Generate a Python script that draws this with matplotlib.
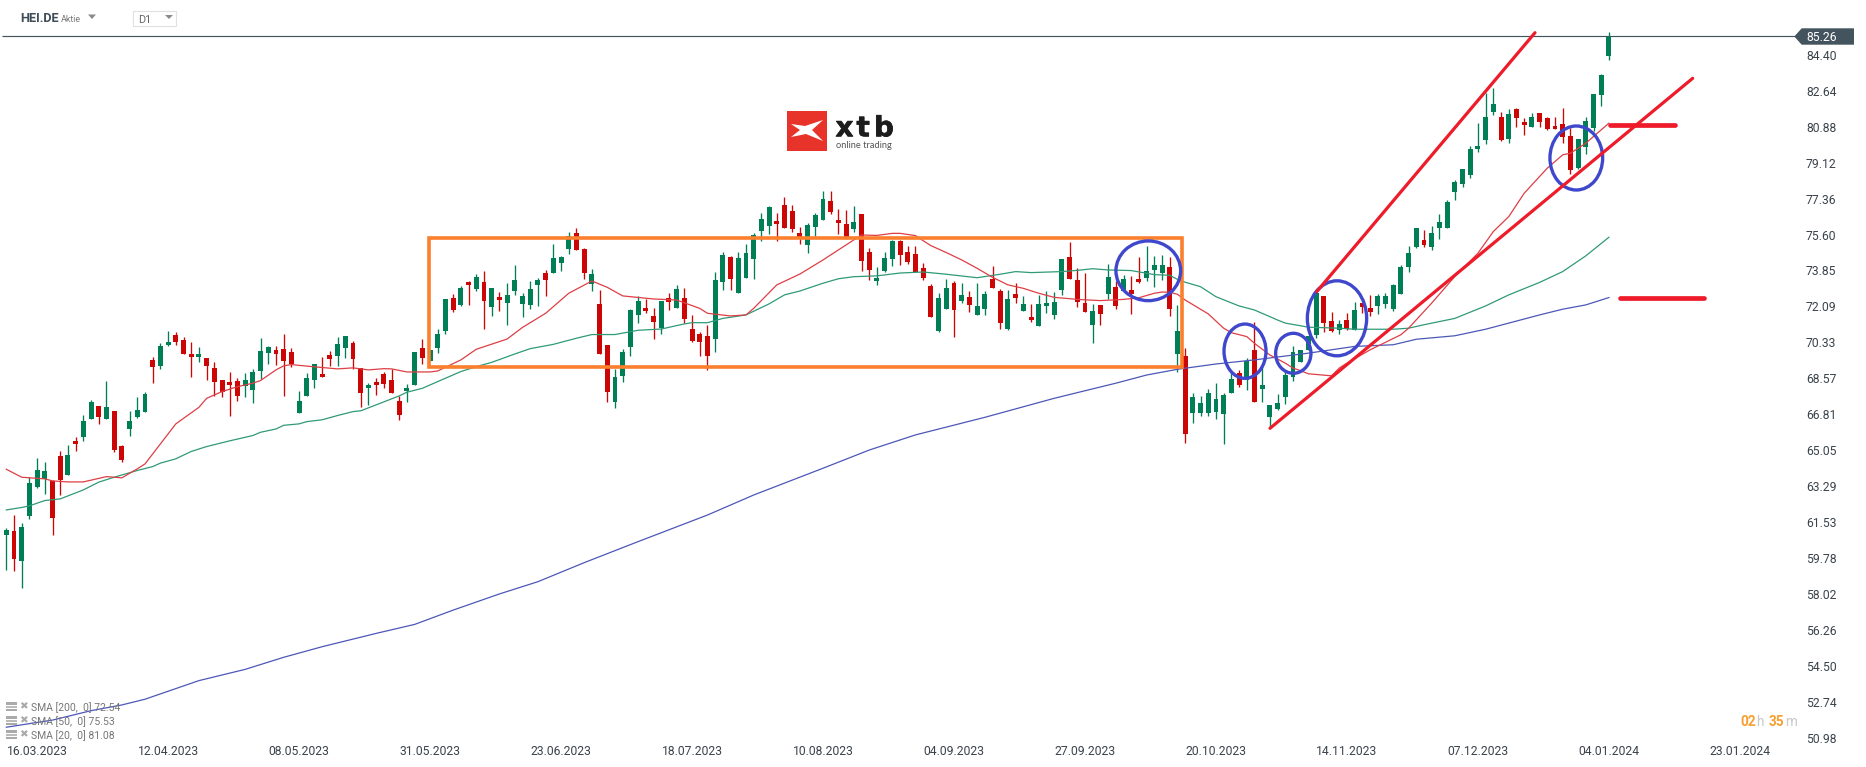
import matplotlib
matplotlib.use("Agg")
import matplotlib.pyplot as plt
import matplotlib.patheffects as pe
from matplotlib.patches import Ellipse, Polygon, Rectangle

plt.rcParams['font.family'] = ['Roboto', 'DejaVu Sans']

opens = [60.91,61.10,59.63,61.84,63.25,63.65,63.55,64.77,63.84,65.50,
65.70,66.58,67.22,66.58,66.97,65.26,66.09,66.68,66.93,69.47,
69.17,70.20,70.69,70.45,69.76,69.61,69.57,69.08,68.49,68.39,
68.44,68.20,68.00,68.93,69.81,69.96,70.01,69.86,66.87,67.71,
68.49,68.78,69.71,69.66,70.05,70.30,69.08,68.10,68.39,68.78,
68.49,67.46,67.95,68.25,70.05,69.42,70.05,70.89,72.50,72.16,
73.28,72.94,73.28,72.06,72.55,72.25,72.84,72.21,72.16,73.13,
73.72,73.72,74.21,74.89,75.68,74.89,73.18,72.21,70.20,67.41,
68.69,70.10,71.67,72.01,71.62,71.03,72.50,72.01,72.50,70.98,
70.74,70.64,70.49,73.28,74.50,72.74,73.48,74.41,75.78,76.02,
76.26,77.05,76.75,75.68,75.09,75.97,76.31,77.24,76.31,76.12,
75.87,76.61,74.75,73.33,73.82,74.41,75.29,74.75,74.65,73.97,
73.09,70.89,71.96,73.23,72.35,72.55,71.67,71.96,73.43,72.84,
70.98,72.69,71.86,71.57,71.13,72.11,71.67,72.89,74.50,73.38,
72.25,71.18,72.16,72.69,73.04,72.84,72.89,73.43,73.48,73.87,
73.72,74.01,69.76,69.66,66.88,66.88,66.88,66.92,66.83,67.85,
68.83,68.49,69.96,68.05,66.68,67.07,67.66,68.64,69.38,69.96,
70.70,72.60,71.38,70.94,71.43,70.94,72.26,72.02,72.11,72.21,
71.97,72.70,74.02,75.00,75.34,75.00,75.93,75.93,77.69,78.08,
78.52,79.79,80.23,81.60,81.36,80.28,81.75,81.11,80.87,81.55,
81.31,80.92,81.01,80.43,78.86,79.89,80.82,82.43,84.34]

closes = [61.15,59.73,61.30,63.45,64.09,64.04,61.74,63.60,64.82,65.36,
66.48,67.41,66.68,67.17,65.07,64.58,66.48,67.02,67.81,69.13,
70.15,70.35,70.35,69.76,69.61,69.76,69.17,68.39,67.90,68.25,
67.71,68.49,68.88,69.91,70.10,69.76,69.42,69.27,67.46,68.59,
69.27,68.64,69.52,70.25,70.64,69.52,67.85,68.25,68.25,68.29,
67.85,66.78,68.10,69.86,69.57,69.96,70.74,72.45,71.91,72.99,
73.14,73.53,72.35,72.99,72.40,72.65,73.38,72.60,72.94,73.38,
73.38,74.46,74.50,75.53,74.85,73.72,73.67,69.76,67.90,68.64,
69.86,71.91,72.35,71.86,71.33,72.35,72.30,72.94,71.47,70.40,
70.35,69.66,73.38,74.60,73.43,74.46,74.70,75.58,76.36,76.95,
76.12,75.92,75.87,75.48,76.07,76.56,77.34,76.70,76.17,75.48,
76.22,74.31,73.87,73.48,74.46,75.29,74.60,74.26,73.77,73.48,
71.57,72.50,72.99,71.91,72.65,72.16,72.11,72.69,72.99,71.28,
72.45,72.50,72.21,71.42,72.21,72.25,72.30,74.41,73.43,72.30,
71.82,71.86,71.72,73.53,72.11,73.43,72.69,73.28,73.82,74.11,
74.11,71.96,70.89,65.85,67.66,67.36,67.85,67.56,67.76,68.54,
68.25,69.42,67.41,68.25,67.27,67.36,68.74,69.87,69.96,70.65,
72.73,71.28,70.89,71.23,70.99,71.92,72.07,71.82,72.60,72.60,
73.14,74.02,74.71,75.93,75.10,75.68,76.22,77.20,78.18,78.81,
79.79,79.94,81.36,81.99,80.23,81.50,81.31,80.97,81.36,81.11,
80.77,80.77,80.38,78.76,80.28,81.16,82.48,83.41,85.26]

highs = [61.23,61.88,61.49,63.74,64.67,64.48,63.60,65.00,65.29,65.68,
66.78,67.51,67.22,68.44,66.97,65.31,66.97,67.66,67.90,69.60,
70.28,70.89,70.84,70.59,70.35,70.10,69.57,69.37,68.49,68.88,
68.59,68.83,69.03,70.54,70.15,70.15,70.74,70.05,67.95,68.83,
69.27,69.61,69.91,70.59,70.64,70.40,69.08,68.34,68.59,68.88,
69.03,67.71,68.29,69.86,70.49,69.96,70.98,72.45,72.70,73.09,
73.33,73.67,73.82,72.99,72.79,73.23,74.11,72.74,73.33,73.48,
73.87,75.14,74.55,75.73,75.92,74.94,73.92,72.89,70.20,69.03,
70.01,71.96,72.60,72.45,72.01,72.35,72.74,73.14,72.99,71.67,
70.84,71.18,73.77,74.75,74.55,74.75,75.14,75.68,76.66,77.00,
76.66,77.44,77.05,75.97,76.17,76.66,77.73,77.73,76.85,76.80,
77.00,76.61,74.94,74.02,74.75,75.33,75.33,75.04,75.04,74.21,
73.18,72.74,73.43,73.33,73.23,72.84,73.23,72.84,74.06,72.94,
72.89,73.23,72.60,72.21,72.65,72.84,72.79,74.41,75.24,73.97,
73.72,72.21,72.16,74.16,73.33,73.62,73.58,74.50,75.04,74.55,
74.60,74.50,72.16,70.05,67.85,67.71,68.05,68.34,67.85,68.83,
68.98,69.57,71.33,69.17,67.27,67.81,68.98,70.16,69.96,70.65,
72.90,72.60,71.82,71.43,71.77,72.31,72.26,72.65,72.70,72.75,
73.19,74.12,75.05,75.93,75.83,76.03,76.61,77.30,78.28,78.81,
79.94,81.06,82.51,82.77,81.60,81.75,81.80,81.31,81.55,81.55,
81.36,81.36,81.80,80.82,80.28,81.36,82.48,83.46,85.51]

lows = [59.19,59.14,58.31,61.69,63.20,62.91,60.91,62.86,63.84,65.02,
65.50,66.58,66.34,66.58,64.97,64.48,65.75,66.63,66.93,68.34,
69.03,70.15,70.20,69.76,68.64,69.37,68.49,67.71,67.66,66.73,
67.46,67.66,67.37,68.54,69.27,69.22,67.71,69.13,66.87,67.71,
68.10,68.64,69.17,69.17,69.57,69.03,67.17,67.27,67.76,68.10,
67.85,66.53,67.41,68.25,69.27,69.42,69.81,70.74,71.82,72.11,
72.16,72.84,70.98,71.62,71.86,71.18,72.65,71.57,71.96,72.11,
72.60,73.72,73.82,74.65,74.85,73.43,72.84,69.76,67.41,67.12,
68.39,69.66,71.28,71.77,70.49,70.74,71.91,72.01,71.28,70.35,
69.66,68.98,69.86,72.89,72.89,72.74,73.48,73.43,75.29,75.63,
75.29,75.92,75.73,75.14,74.70,75.53,76.31,76.61,75.63,75.38,
75.73,73.82,73.38,73.14,73.77,74.06,74.11,74.16,73.77,73.38,
71.57,70.84,71.96,70.59,72.25,71.82,71.67,71.67,72.99,70.98,
70.94,72.25,71.86,71.33,71.13,71.77,71.47,72.65,73.43,72.06,
71.82,70.30,71.18,72.45,71.96,72.84,71.72,73.23,73.33,73.04,
73.38,71.62,68.88,65.41,66.39,66.73,66.73,66.58,65.36,67.85,
68.15,68.00,67.41,67.41,66.14,67.02,67.32,68.45,69.38,69.96,
70.55,70.84,70.84,70.75,70.94,70.94,71.77,71.63,71.72,72.02,
71.87,72.70,73.78,74.95,75.00,74.85,75.39,75.93,77.30,77.93,
78.37,79.65,80.04,81.45,80.18,80.08,80.87,80.48,80.87,80.87,
80.72,80.77,80.08,78.57,78.81,79.55,80.67,81.89,84.14]

sma20_x = [0,2,5,6,8,10,13,15,17,18,22,25,26,28,30,32,33,35,36,37,40,43,45,47,49,50,52,55,56,57,59,61,
65,67,70,73,76,78,80,84,87,90,91,94,96,97,100,103,106,108,110,111,113,115,
116,118,119,120,122,124,126,128,130,132,134,136,139,142,145,147,149,150,151,152,153,156,158,159,161,162,164,
166,167,168,169,172,173,174,177,181,182,185,188,191,193,195,197,200,202,203,205,206,208]
sma20_v = [64.12,63.73,63.65,63.55,63.50,63.50,63.76,63.70,64.14,64.38,66.34,67.15,67.59,67.92,68.16,68.33,68.46,68.98,69.18,69.24,69.13,69.03,69.08,68.98,69.04,69.03,68.88,68.88,68.93,69.11,69.47,69.99,
70.49,71.06,71.75,72.73,73.33,73.02,72.60,72.45,72.40,71.99,71.75,71.62,71.67,71.99,73.14,73.67,74.36,74.85,75.34,75.58,75.56,75.66,
75.66,75.55,75.30,75.06,74.72,74.36,73.95,73.51,73.14,72.97,72.73,72.53,72.43,72.37,72.43,72.51,72.73,72.79,72.78,72.68,72.40,71.72,71.02,70.80,70.61,70.28,69.71,
69.31,69.07,68.94,68.79,68.69,69.07,69.31,69.96,70.70,71.02,72.25,73.55,74.69,75.75,76.48,77.62,78.85,79.50,79.58,80.07,80.40,81.05]

sma50_x = [0,2,3,5,7,10,12,14,17,19,20,22,24,26,29,32,33,35,36,38,39,41,43,45,46,48,51,52,54,56,59,61,
63,66,68,71,74,76,79,82,85,88,89,91,93,96,99,101,103,106,108,110,113,116,
119,122,126,129,131,133,137,139,141,143,146,149,151,152,153,155,157,160,162,165,
166,169,173,175,180,182,184,188,192,195,199,202,205,208]
sma50_v = [62.13,62.25,62.33,62.59,62.67,63.11,63.49,63.73,64.06,64.25,64.42,64.63,64.99,65.23,65.51,65.77,65.93,66.09,66.27,66.34,66.45,66.54,66.75,66.94,66.98,67.27,67.71,67.89,68.08,68.41,68.90,69.14,
69.35,69.76,70.02,70.23,70.53,70.71,70.71,70.92,70.98,71.23,71.29,71.29,71.50,71.67,72.21,72.65,72.84,73.22,73.44,73.54,73.58,73.72,
73.77,73.66,73.49,73.66,73.79,73.74,73.79,73.85,73.93,73.87,73.84,73.64,73.61,73.41,73.27,73.05,72.56,72.11,71.91,71.42,
71.27,71.07,71.02,70.97,70.97,71.02,71.19,71.50,72.11,72.65,73.26,73.79,74.56,75.47]

sma200_x = [0,6,11,15,18,25,31,36,41,48,53,58,64,69,75,82,91,97,106,112,118,127,136,144,148,152,157,162,169,175,180,183,188,192,195,199,202,205,208]
sma200_v = [51.50,51.85,52.31,52.59,52.87,53.78,54.33,54.92,55.44,56.09,56.53,57.23,58.02,58.62,59.55,60.58,61.88,62.86,64.17,65.06,65.80,66.66,67.59,68.33,68.73,69.01,69.27,69.47,69.80,70.13,70.21,70.48,70.65,70.97,71.27,71.67,71.95,72.16,72.52]

price_ticks = [84.40,82.64,80.88,79.12,77.36,75.60,73.85,72.09,70.33,68.57,66.81,65.05,63.29,61.53,59.78,58.02,56.26,54.50,52.74,50.98]
date_ticks = [4,21,38,55,72,89,106,123,140,157,174,191,208,225]
date_labels = ['16.03.2023','12.04.2023','08.05.2023','31.05.2023','23.06.2023','18.07.2023','10.08.2023',
               '04.09.2023','27.09.2023','20.10.2023','14.11.2023','07.12.2023','04.01.2024','23.01.2024']
last_price = 85.26
legend_rows = ['SMA [200,  0] 72.54', 'SMA [50,  0] 75.53', 'SMA [20,  0] 81.08']

W, H = 1866, 767
fig = plt.figure(figsize=(W/100, H/100), dpi=100, facecolor='white')
ax = fig.add_axes([0, (H-740)/H, 1800/W, 740/H])
ax.set_xlim(-0.818, 232.8)
ax.set_ylim(50.875, 87.076)
for s in ax.spines.values():
    s.set_visible(False)

GREEN, RED = '#007f56', '#cc0505'
xs = list(range(len(opens)))
cols = [GREEN if c >= o else RED for o, c in zip(opens, closes)]
ax.hlines(last_price + 0.04, -0.6, 232.8, color='#44545f', lw=0.85, zorder=1)
ax.vlines(xs, lows, highs, colors=cols, lw=0.95, zorder=2)
ax.bar(xs, [abs(c-o) for o, c in zip(opens, closes)], bottom=[min(o, c) for o, c in zip(opens, closes)],
       width=0.64, color=cols, lw=0, zorder=3)
ax.plot(sma200_x, sma200_v, color='#4d57b8', lw=0.9, zorder=4)
ax.plot(sma50_x, sma50_v, color='#2f9a78', lw=0.9, zorder=4)
ax.plot(sma20_x, sma20_v, color='#dd3f45', lw=0.9, zorder=4)

ax.yaxis.tick_right()
ax.set_yticks(price_ticks)
ax.set_yticklabels([f'{v:.2f}' for v in price_ticks])
ax.set_xticks(date_ticks)
ax.set_xticklabels(date_labels)
ax.tick_params(axis='y', length=0, pad=4.3, labelsize=8.7, labelcolor='#3a424b')
ax.tick_params(axis='x', length=0, pad=3.6, labelsize=8.7, labelcolor='#3a424b')

# overlay in pixel space for the drawing tools and the platform furniture
ov = fig.add_axes([0, 0, 1, 1], facecolor='none')
ov.set_xlim(0, W)
ov.set_ylim(H, 0)
ov.axis('off')

ORANGE, LINE, CIRC = '#fb7f2d', '#ee1c2a', '#3f48cc'
ov.add_patch(Rectangle((428.5, 238.3), 753.2, 129, fill=False, ec=ORANGE, lw=2.6, joinstyle='miter'))
ov.plot([1316.7, 1535], [291.7, 32.7], color=LINE, lw=2.3, solid_capstyle='round')
ov.plot([1270, 1692.7], [428.3, 78.3], color=LINE, lw=2.3, solid_capstyle='round')
ov.plot([1610, 1675], [125.3, 125.3], color=LINE, lw=3.4, solid_capstyle='round')
ov.plot([1620, 1704], [298.3, 298.3], color=LINE, lw=3.4, solid_capstyle='round')
for cx, cy, w, h in [(1148.3, 270.8, 64.7, 59.7), (1245, 351.2, 42, 54.3), (1293.3, 353.3, 35.3, 40),
                     (1337, 318.3, 59.3, 75), (1576.3, 158, 52.7, 64)]:
    ov.add_patch(Ellipse((cx, cy), w, h, fill=False, ec=CIRC, lw=2.4))

# price tag
ov.add_patch(Polygon([(1794.3, 36.5), (1801.7, 28.3), (1854, 28.3), (1854, 44.7), (1801.7, 44.7)], fc='#44545f', ec='none'))
ov.text(1806, 37.8, f'{last_price:.2f}', color='white', fontsize=8.7, va='center', ha='left')

# header
ov.text(20, 19, 'HEI.DE', fontsize=9.2, fontweight='bold', color='#3f4d58', va='center', ha='left')
ov.text(61, 19.5, 'Aktie', fontsize=6.4, color='#777777', va='center', ha='left')
ov.add_patch(Polygon([(88, 14.5), (96, 14.5), (92, 19)], fc='#8a8a8a', ec='none'))
ov.add_patch(Rectangle((132.5, 10.5), 43, 15, fill=False, ec='#e0e0e0', lw=0.8))
ov.text(138, 20, 'D1', fontsize=7.8, color='#666666', va='center', ha='left')
ov.add_patch(Polygon([(165, 15), (173, 15), (169, 19)], fc='#8a8a8a', ec='none'))

# logo
ov.add_patch(Rectangle((786.7, 110.7), 40.6, 40, fc='#e8332a', ec='none'))
ov.add_patch(Polygon([(791, 124), (805, 126), (823, 120), (812, 130), (823, 141), (806, 134), (791, 137), (800, 130)],
                     fc='white', ec='none'))
for lx, ch in [(835.5, 'x'), (856.5, 't'), (874, 'b')]:
    ov.text(lx, 136.3, ch, fontsize=20, fontweight='bold', family='DejaVu Sans', color='#1c1c1c',
            va='baseline', ha='left', path_effects=[pe.withStroke(linewidth=0.5, foreground='#1c1c1c')])
ov.text(836, 145, 'online trading', fontsize=6.7, family='Lato', color='#555555', va='center', ha='left')

# legend rows
for y, label in zip([707.7, 721.7, 735.7], legend_rows):
    ov.add_patch(Rectangle((6, y-6), 11, 3, fc='#aaaaaa', ec='none'))
    ov.add_patch(Rectangle((6, y-2), 11, 2, fc='#bbbbbb', ec='none'))
    ov.add_patch(Rectangle((6, y+1), 11, 2.6, fc='#aaaaaa', ec='none'))
    ov.text(23.5, y-1, '✖', fontsize=7.5, family='DejaVu Sans', color='#aaaaaa', va='center', ha='center')
    ov.text(31, y, label, fontsize=7.5, color='#777777', va='center', ha='left')

# countdown
for tx, s, c in [(1740, '02', '#f7a032'), (1756.2, 'h', '#c8c8c8'), (1769, '35', '#f7a032'), (1785.2, 'm', '#c8c8c8')]:
    ov.text(tx, 722.5, s, fontsize=9.8, fontweight='bold' if c == '#f7a032' else 'normal', color=c, va='center', ha='left')

fig.savefig('out.png', dpi=100, facecolor='white')
